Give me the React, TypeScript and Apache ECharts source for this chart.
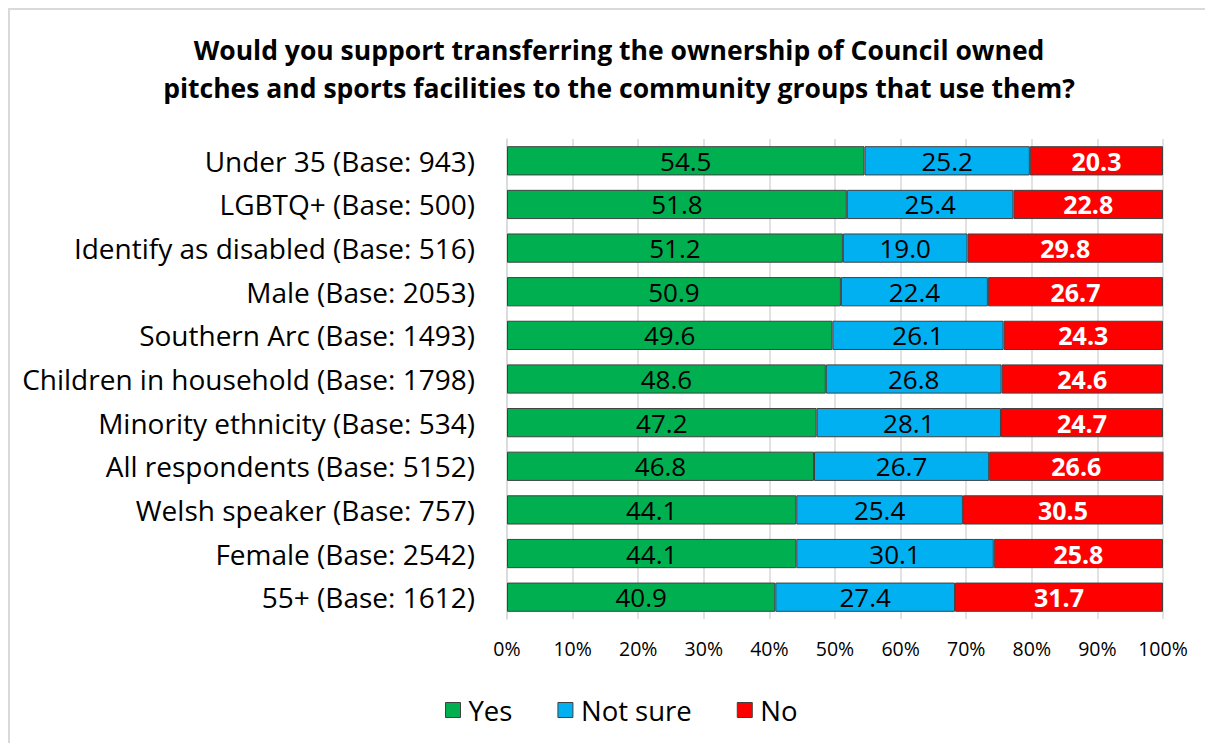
import React, { useEffect, useRef } from "react";
import * as echarts from "echarts";

const categories = [
  "Under 35 (Base: 943)",
  "LGBTQ+ (Base: 500)",
  "Identify as disabled (Base: 516)",
  "Male (Base: 2053)",
  "Southern Arc (Base: 1493)",
  "Children in household (Base: 1798)",
  "Minority ethnicity (Base: 534)",
  "All respondents (Base: 5152)",
  "Welsh speaker (Base: 757)",
  "Female (Base: 2542)",
  "55+ (Base: 1612)",
];
const yesValues = [54.5, 51.8, 51.2, 50.9, 49.6, 48.6, 47.2, 46.8, 44.1, 44.1, 40.9];
const notSureValues = [25.2, 25.4, 19.0, 22.4, 26.1, 26.8, 28.1, 26.7, 25.4, 30.1, 27.4];
const noValues = [20.3, 22.8, 29.8, 26.7, 24.3, 24.6, 24.7, 26.6, 30.5, 25.8, 31.7];
const titleText =
  "Would you support transferring the ownership of Council owned\npitches and sports facilities to the community groups that use them?";

const FONT = "'Open Sans', sans-serif";

export default function App() {
  const ref = useRef<HTMLDivElement>(null);
  useEffect(() => {
    if (!ref.current) return;
    const chart = echarts.init(ref.current, undefined, { renderer: "svg" });
    const mk = (name: string, data: number[], color: string, labelColor: string, bold: boolean) => ({
      name,
      type: "bar",
      stack: "total",
      data,
      barCategoryGap: "33%",
      itemStyle: { color, borderColor: "#404040", borderWidth: 1 },
      label: {
        show: true,
        position: "inside",
        color: labelColor,
        fontFamily: FONT,
        fontSize: bold ? 25 : 26,
        fontWeight: bold ? "bold" : "normal",
        formatter: (p: any) => Number(p.value).toFixed(1),
      },
    });
    chart.setOption({
      animation: false,
      textStyle: { fontFamily: FONT },
      graphic: [
        {
          type: "rect",
          shape: { x: 1, y: 1, width: 1400, height: 900 },
          style: { fill: "none", stroke: "#d9d9d9", lineWidth: 2 },
          silent: true,
        },
      ],
      title: {
        text: titleText,
        left: 606,
        textAlign: "center",
        top: 18,
        textStyle: {
          fontFamily: FONT,
          fontSize: 26.5,
          fontWeight: "bold",
          color: "#000",
          lineHeight: 38,
        },
      },
      legend: {
        left: 432,
        top: 683,
        itemWidth: 15,
        itemHeight: 15,
        itemGap: 45,
        icon: "rect",
        textStyle: { fontFamily: FONT, fontSize: 27.5, color: "#000", padding: [0, 0, 0, 3] },
        itemStyle: { borderColor: "#404040", borderWidth: 1 },
        data: ["Yes", "Not sure", "No"],
      },
      grid: { left: 499, right: 50, top: 131, bottom: 124, containLabel: false },
      xAxis: {
        type: "value",
        min: 0,
        max: 100,
        interval: 10,
        axisLine: { show: false },
        axisTick: { show: false },
        splitLine: { lineStyle: { color: "#d9d9d9", width: 1.5 } },
        axisLabel: {
          formatter: "{value}%",
          fontFamily: FONT,
          fontSize: 19.5,
          color: "#000",
          margin: 19,
        },
      },
      yAxis: {
        type: "category",
        data: categories,
        inverse: true,
        axisLine: { show: true, lineStyle: { color: "#d9d9d9", width: 1.5 } },
        axisTick: { show: false },
        axisLabel: { fontFamily: FONT, fontSize: 28, color: "#000", margin: 32 },
      },
      series: [
        mk("Yes", yesValues, "#00B050", "#000", false),
        mk("Not sure", notSureValues, "#00B0F0", "#000", false),
        mk("No", noValues, "#FF0000", "#fff", true),
      ],
    });
    return () => chart.dispose();
  }, []);
  return <div ref={ref} style={{ width: 1205, height: 735 }} />;
}
